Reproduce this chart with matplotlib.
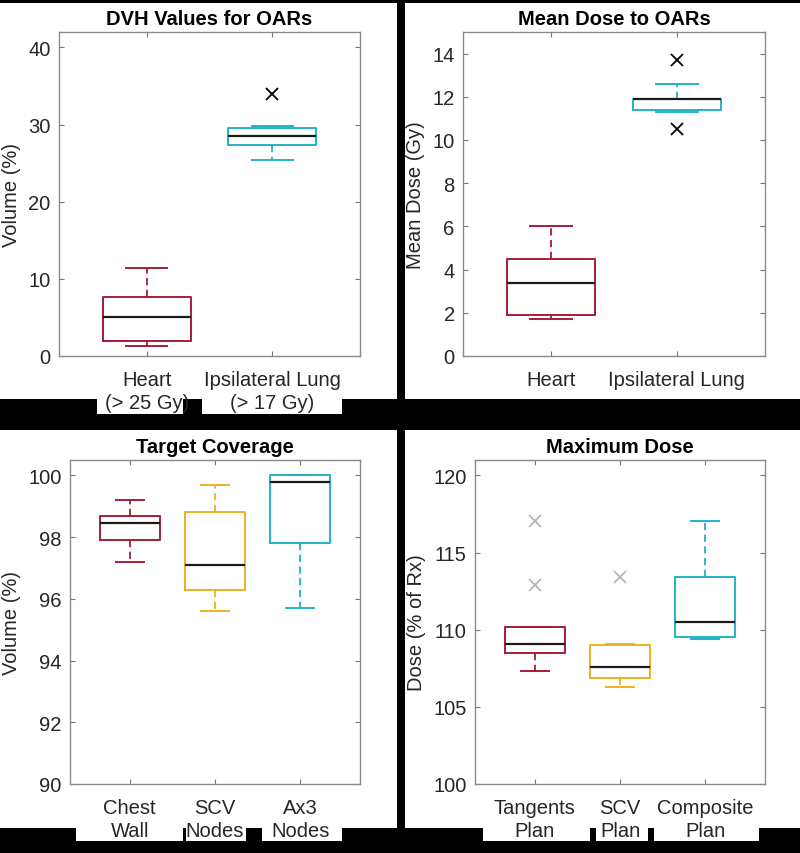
"""
Four MATLAB-style box plots on a black page:
OAR DVH values, mean dose to OARs, target coverage and maximum dose.
"""

import matplotlib
matplotlib.use("Agg")
import matplotlib.pyplot as plt
from matplotlib.patches import Rectangle

plt.rcParams['font.family'] = ['Liberation Sans', 'DejaVu Sans']

W, H = 800, 854   # figure size in pixels

RED = '#A51C3A'
YELLOW = '#EDB120'
CYAN = '#22B2C8'
TXT = '#262626'

# ---- panel 1: DVH values for OARs
dvh_labels = ['Heart\n(> 25 Gy)', 'Ipsilateral Lung\n(> 17 Gy)']
dvh_whislo = [1.3, 25.4]
dvh_q1 = [1.9, 27.4]
dvh_med = [5.0, 28.5]
dvh_q3 = [7.7, 29.5]
dvh_whishi = [11.4, 29.8]
dvh_fliers = [[], [34.0]]

# ---- panel 2: mean dose to OARs
mean_labels = ['Heart', 'Ipsilateral Lung']
mean_whislo = [1.7, 11.3]
mean_q1 = [1.9, 11.4]
mean_med = [3.4, 11.9]
mean_q3 = [4.5, 11.9]
mean_whishi = [6.0, 12.6]
mean_fliers = [[], [13.7, 10.5]]

# ---- panel 3: target coverage
cov_labels = ['Chest\nWall', 'SCV\nNodes', 'Ax3\nNodes']
cov_whislo = [97.2, 95.6, 95.7]
cov_q1 = [97.9, 96.3, 97.8]
cov_med = [98.45, 97.1, 99.8]
cov_q3 = [98.7, 98.8, 100.0]
cov_whishi = [99.2, 99.7, 100.0]
cov_fliers = [[], [], []]

# ---- panel 4: maximum dose
max_labels = ['Tangents\nPlan', 'SCV\nPlan', 'Composite\nPlan']
max_whislo = [107.3, 106.3, 109.4]
max_q1 = [108.5, 106.9, 109.5]
max_med = [109.05, 107.6, 110.5]
max_q3 = [110.2, 109.0, 113.4]
max_whishi = [110.2, 109.1, 117.05]
max_fliers = [[117.05, 112.9], [113.4], []]


def px_rect(fig, x0, y0, x1, y1):
    """ white rectangle given in pixel coords (origin top left) """
    fig.patches.append(Rectangle((x0 / W, 1 - y1 / H), (x1 - x0) / W, (y1 - y0) / H,
                                 transform=fig.transFigure, facecolor='white',
                                 edgecolor='none', zorder=-1))


def px_axes(fig, left, right, top, bottom):
    return fig.add_axes([left / W, 1 - bottom / H, (right - left) / W, (bottom - top) / H])


def draw_panel(ax, labels, whislo, q1, med, q3, whishi, fliers, colors,
               flier_color, ylim, yticks, title, ylabel):
    """ one box plot panel """
    stats = []
    for i in range(len(labels)):
        stats.append(dict(label=labels[i], whislo=whislo[i], q1=q1[i], med=med[i],
                          q3=q3[i], whishi=whishi[i], fliers=fliers[i]))
    n = len(stats)
    bp = ax.bxp(stats, positions=list(range(1, n + 1)), widths=0.7, capwidths=0.33,
                boxprops=dict(linewidth=1.4),
                whiskerprops=dict(linewidth=1.3, linestyle=(0, (4, 2.5))),
                capprops=dict(linewidth=1.4),
                medianprops=dict(color='#1a1a1a', linewidth=1.6),
                flierprops=dict(marker='x', markersize=8, markeredgewidth=1.3,
                                markeredgecolor=flier_color, linestyle='none'))
    for i, c in enumerate(colors):
        bp['boxes'][i].set_color(c)
        for k in (2 * i, 2 * i + 1):
            bp['whiskers'][k].set_color(c)
            bp['caps'][k].set_color(c)

    ax.set_xlim(0.3, n + 0.7)
    ax.set_ylim(*ylim)
    ax.set_yticks(yticks)
    ax.set_title(title, fontsize=14.5, fontweight='bold', color='black', pad=6)
    ax.set_ylabel(ylabel, fontsize=14.5, color=TXT, labelpad=5)
    ax.tick_params(axis='both', direction='in', length=3.5, width=0.8,
                   color='#777777', labelsize=14.5, labelcolor=TXT,
                   top=True, right=True)
    ax.tick_params(axis='x', pad=10)
    ax.tick_params(axis='y', pad=6)
    for s in ax.spines.values():
        s.set_color('#8a8a8a')
        s.set_linewidth(1.0)
    for t in ax.get_xticklabels():
        t.set_linespacing(1.3)


def main():
    fig = plt.figure(figsize=(W / 100, H / 100), dpi=100, facecolor='black')

    # white panels and the white strips behind the overhanging tick labels
    px_rect(fig, 0, 4, 397, 400)
    px_rect(fig, 405, 4, 800, 400)
    px_rect(fig, 0, 431, 397, 829)
    px_rect(fig, 405, 431, 800, 829)
    px_rect(fig, 97, 399, 183, 415)
    px_rect(fig, 202, 399, 342, 415)
    px_rect(fig, 76, 828, 183, 842)
    px_rect(fig, 186, 828, 246, 842)
    px_rect(fig, 262, 828, 342, 842)
    px_rect(fig, 483, 828, 590, 842)
    px_rect(fig, 596, 828, 648, 842)
    px_rect(fig, 654, 828, 759, 842)

    ax1 = px_axes(fig, 59, 360, 33, 357)
    draw_panel(ax1, dvh_labels, dvh_whislo, dvh_q1, dvh_med, dvh_q3, dvh_whishi,
               dvh_fliers, [RED, CYAN], 'black', (0, 42), [0, 10, 20, 30, 40],
               'DVH Values for OARs', 'Volume (%)')

    ax2 = px_axes(fig, 463, 765, 33, 357)
    draw_panel(ax2, mean_labels, mean_whislo, mean_q1, mean_med, mean_q3, mean_whishi,
               mean_fliers, [RED, CYAN], 'black', (0, 15), [0, 2, 4, 6, 8, 10, 12, 14],
               'Mean Dose to OARs', 'Mean Dose (Gy)')

    ax3 = px_axes(fig, 70, 360, 461, 785)
    draw_panel(ax3, cov_labels, cov_whislo, cov_q1, cov_med, cov_q3, cov_whishi,
               cov_fliers, [RED, YELLOW, CYAN], 'black', (90, 100.5),
               [90, 92, 94, 96, 98, 100], 'Target Coverage', 'Volume (%)')

    ax4 = px_axes(fig, 475, 765, 461, 785)
    draw_panel(ax4, max_labels, max_whislo, max_q1, max_med, max_q3, max_whishi,
               max_fliers, [RED, YELLOW, CYAN], '#b5b5b5', (100, 121),
               [100, 105, 110, 115, 120], 'Maximum Dose', 'Dose (% of Rx)')

    fig.savefig('out.png', dpi=100, facecolor='black')


if __name__ == '__main__':
    main()
